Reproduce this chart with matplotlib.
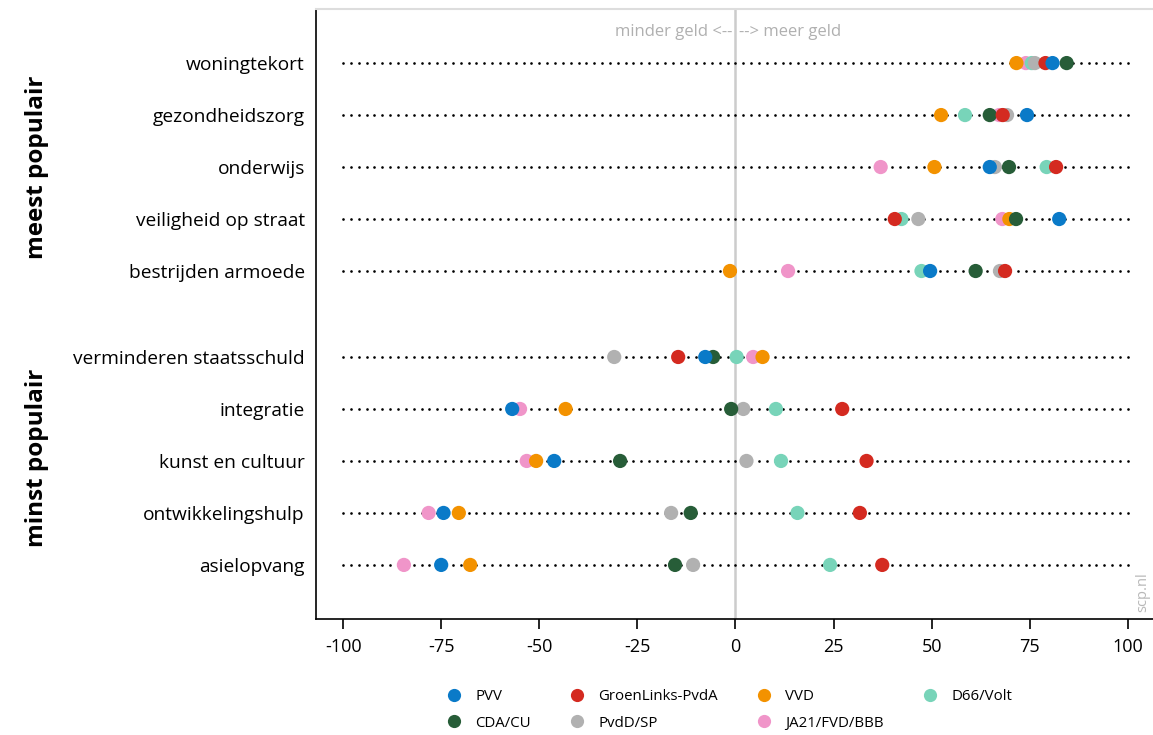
import numpy as np
import matplotlib
matplotlib.use('Agg')
import matplotlib.pyplot as plt
from matplotlib.lines import Line2D

plt.rcParams['font.family'] = ['Open Sans', 'DejaVu Sans']

# onderwerpen (van boven naar beneden)
topics_top = ['woningtekort', 'gezondheidszorg', 'onderwijs',
              'veiligheid op straat', 'bestrijden armoede']
topics_bottom = ['verminderen staatsschuld', 'integratie', 'kunst en cultuur',
                 'ontwikkelingshulp', 'asielopvang']
topics = topics_top + topics_bottom

# saldo meer geld - minder geld per partij, in dezelfde volgorde als topics
pvv = [80.8, 74.3, 64.8, 82.5, 49.6, -7.7, -56.9, -46.2, -74.4, -75.0]
glpvda = [79.0, 68.1, 81.7, 40.6, 68.7, -14.6, 27.2, 33.4, 31.7, 37.4]
vvd = [71.6, 52.4, 50.7, 69.8, -1.4, 6.9, -43.3, -50.8, -70.5, -67.6]
d66volt = [75.5, 58.5, 79.3, 42.3, 47.4, 0.3, 10.3, 11.6, 15.8, 24.1]
cdacu = [84.4, 64.8, 69.7, 71.5, 61.2, -5.7, -1.1, -29.4, -11.4, -15.4]
pvddsp = [76.3, 69.2, 66.1, 46.6, 67.4, -30.9, 2.0, 2.8, -16.4, -10.8]
ja21 = [74.0, 67.2, 37.0, 68.0, 13.4, 4.5, -54.9, -53.2, -78.2, -84.5]

xticks = [-100, -75, -50, -25, 0, 25, 50, 75, 100]
xticklabels = ['-100', '-75', '-50', '-25', '0', '25', '50', '75', '100']

parties = {
    'PVV': (pvv, '#0a7ac8'),
    'GroenLinks-PvdA': (glpvda, '#d42a20'),
    'VVD': (vvd, '#f39200'),
    'D66/Volt': (d66volt, '#78d4b9'),
    'CDA/CU': (cdacu, '#275d38'),
    'PvdD/SP': (pvddsp, '#b1b1b1'),
    'JA21/FVD/BBB': (ja21, '#f095c9'),
}
# tekenvolgorde (onder -> boven)
draw_order = ['JA21/FVD/BBB', 'D66/Volt', 'PvdD/SP', 'VVD', 'CDA/CU',
              'GroenLinks-PvdA', 'PVV']
# legendavolgorde (kolomsgewijs gevuld)
legend_order = ['PVV', 'CDA/CU', 'GroenLinks-PvdA', 'PvdD/SP', 'VVD',
                'JA21/FVD/BBB', 'D66/Volt']

gap = 86 / 52
ypos = list(range(len(topics_top))) + [len(topics_top) - 1 + gap + i for i in range(len(topics_bottom))]

fig = plt.figure(figsize=(11.53, 7.35), dpi=100)
ax = fig.add_axes([316 / 1153, 116 / 735, (1153 - 316) / 1153, 610 / 735])

# stippellijnen
dotx = np.arange(-100, 100.1, 2)
for y in ypos:
    ax.plot(dotx, [y] * len(dotx), ls='none', marker='o', ms=1.9,
            color='black', markeredgewidth=0, zorder=1)

ax.axvline(0, color='#cccccc', lw=1.8, zorder=0.5)

for i, name in enumerate(draw_order):
    vals, col = parties[name]
    ax.scatter(vals, ypos, s=105, color=col, edgecolors='none', zorder=3 + i)

ax.set_xlim(-106.9, 106.4)
ax.set_ylim(ypos[-1] + 1.04, -1.04)

ax.set_yticks(ypos)
ax.set_yticklabels(topics, fontsize=13.8)
ax.tick_params(axis='y', length=0, pad=8)
ax.set_xticks(xticks)
ax.set_xticklabels(xticklabels, fontsize=13)
ax.tick_params(axis='x', length=7, width=1.2, pad=7)

ax.spines['right'].set_visible(False)
ax.spines['top'].set_color('#dddddd')
ax.spines['top'].set_linewidth(1.5)
ax.spines['left'].set_linewidth(1.2)
ax.spines['bottom'].set_linewidth(1.2)

ax.text(-0.8, -0.6, 'minder geld <--', ha='right', va='center',
        color='#b0b0b0', fontsize=12)
ax.text(0.8, -0.6, '--> meer geld', ha='left', va='center',
        color='#b0b0b0', fontsize=12)
ax.text(0.988, 0.012, 'scp.nl', transform=ax.transAxes, rotation=90,
        ha='center', va='bottom', color='#b8b8b8', fontsize=10.5)

# groepslabels
fig.text(37 / 1153, 1 - 167 / 735, 'meest populair', rotation=90,
         ha='center', va='center', fontsize=17.5, fontweight='bold')
fig.text(37 / 1153, 1 - 458 / 735, 'minst populair', rotation=90,
         ha='center', va='center', fontsize=17.5, fontweight='bold')

handles = [Line2D([], [], ls='none', marker='o', ms=9.5,
                  color=parties[n][1], markeredgecolor='none')
           for n in legend_order]
ax.legend(handles, legend_order, ncol=4, loc='center',
          bbox_to_anchor=(0.494, -0.149), frameon=False, fontsize=10.8,
          handlelength=1.0, handletextpad=0.9, columnspacing=2.6,
          labelspacing=0.75)

fig.savefig('out.png', dpi=100)
